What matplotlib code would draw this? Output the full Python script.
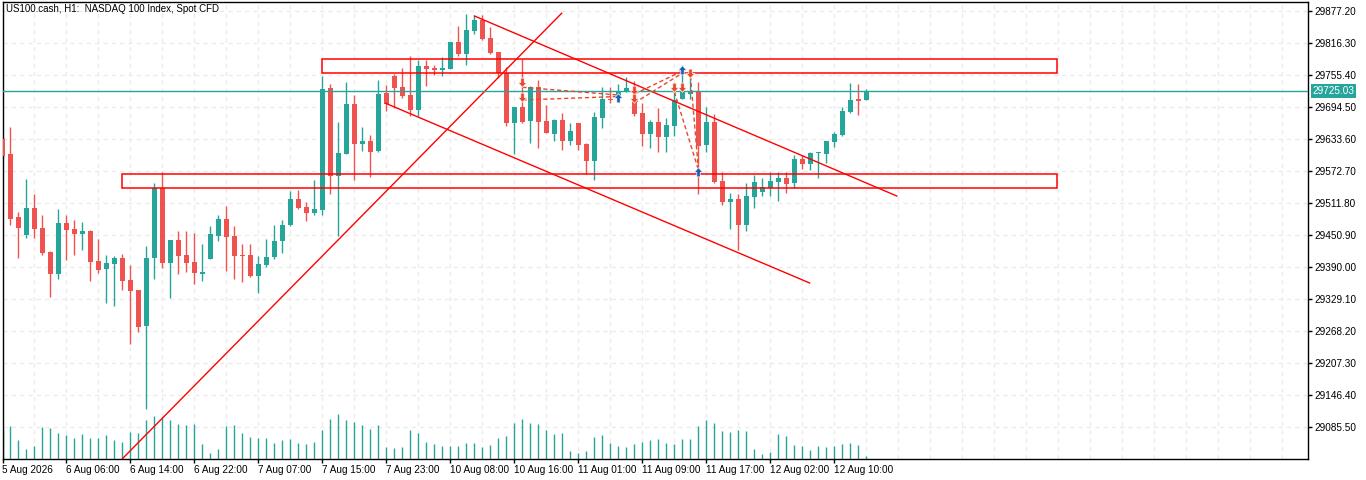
import numpy as np
import matplotlib.pyplot as plt
from matplotlib.path import Path
from matplotlib.patches import Rectangle
from matplotlib.transforms import blended_transform_factory

plt.rcParams['font.family'] = ['Liberation Sans', 'DejaVu Sans']

# DATA : US100.cash H1, one value per bar #

opens = [29634.0, 29605.5, 29485.5, 29451.8, 29502.7, 29464.6, 29418.9, 29377.6, 29474.1, 29462.7,
         29453.7, 29458.9, 29401.8, 29387.1, 29396.6, 29407.5, 29365.6, 29346.5, 29278.6, 29407.5,
         29540.2, 29398.5, 29441.7, 29413.2, 29399.9, 29377.6, 29406.1, 29449.9, 29481.7, 29449.9,
         29413.2, 29413.2, 29373.8, 29394.7, 29409.4, 29440.4, 29470.3, 29519.8, 29504.6, 29493.7,
         29498.9, 29730.6, 29564.2, 29605.5, 29700.7, 29625.1, 29630.2, 29611.2, 29721.6, 29754.0,
         29733.1, 29717.8, 29689.3, 29773.0, 29769.2, 29765.4, 29767.3, 29818.7, 29795.9, 29839.7,
         29860.6, 29826.3, 29799.7, 29759.7, 29664.5, 29695.0, 29668.3, 29733.1, 29668.3, 29643.6,
         29670.2, 29630.2, 29664.5, 29624.5, 29592.2, 29674.0, 29710.2, 29714.0, 29723.5, 29708.3,
         29684.1, 29644.1, 29667.0, 29638.4, 29659.4, 29709.6, 29719.7, 29724.1, 29622.6, 29667.0,
         29554.1, 29514.7, 29519.8, 29470.9, 29524.2, 29533.7, 29540.7, 29552.2, 29559.8, 29550.8,
         29595.4, 29587.0, 29606.8, 29606.1, 29628.3, 29641.7, 29685.5, 29710.2, 29707.7]
highs = [29637.9, 29657.5, 29495.1, 29557.9, 29529.3, 29489.3, 29420.8, 29500.8, 29489.3, 29479.8,
         29476.0, 29460.8, 29443.6, 29413.7, 29411.8, 29415.7, 29394.7, 29347.1, 29430.9, 29550.3,
         29571.2, 29441.7, 29458.9, 29458.9, 29455.1, 29434.7, 29468.4, 29489.3, 29506.5, 29468.4,
         29434.7, 29434.7, 29411.8, 29443.6, 29470.3, 29479.8, 29535.1, 29537.0, 29514.1, 29556.0,
         29754.0, 29738.8, 29666.4, 29742.6, 29717.8, 29656.3, 29641.7, 29746.4, 29736.9, 29757.8,
         29769.2, 29792.1, 29784.5, 29784.5, 29774.9, 29790.2, 29818.7, 29849.2, 29872.0, 29870.1,
         29870.1, 29847.3, 29799.7, 29771.1, 29695.0, 29786.4, 29735.0, 29746.4, 29698.8, 29672.1,
         29683.5, 29664.5, 29664.5, 29626.4, 29685.5, 29733.1, 29733.1, 29738.8, 29752.1, 29744.5,
         29702.0, 29670.8, 29693.6, 29673.5, 29733.6, 29775.5, 29752.1, 29742.0, 29695.5, 29681.6,
         29570.6, 29530.7, 29529.3, 29549.7, 29566.1, 29559.2, 29571.2, 29571.2, 29571.2, 29603.0,
         29603.0, 29609.3, 29609.9, 29629.7, 29647.9, 29694.4, 29740.1, 29738.2, 29728.7]
lows = [29599.8, 29470.3, 29408.0, 29446.1, 29446.1, 29413.7, 29333.8, 29368.1, 29404.2, 29413.7,
        29423.3, 29364.3, 29379.5, 29322.4, 29316.7, 29347.1, 29244.3, 29267.1, 29120.5, 29368.1,
        29389.0, 29331.9, 29377.6, 29381.4, 29358.5, 29364.3, 29406.1, 29440.4, 29383.3, 29368.1,
        29362.3, 29371.9, 29341.4, 29390.9, 29406.1, 29417.6, 29468.4, 29501.3, 29477.9, 29489.3,
        29489.3, 29529.3, 29449.9, 29605.5, 29556.0, 29611.2, 29562.3, 29609.3, 29687.4, 29693.6,
        29712.1, 29677.8, 29677.8, 29735.0, 29755.9, 29754.0, 29767.3, 29792.1, 29774.9, 29834.0,
        29822.5, 29795.9, 29750.2, 29658.8, 29605.5, 29664.5, 29626.4, 29616.9, 29645.5, 29630.2,
        29613.1, 29622.6, 29613.1, 29567.4, 29556.0, 29655.0, 29702.6, 29714.0, 29723.5, 29677.8,
        29621.3, 29617.5, 29608.7, 29609.3, 29640.3, 29709.6, 29710.2, 29528.8, 29609.9, 29549.7,
        29507.8, 29462.1, 29423.3, 29459.4, 29503.2, 29525.5, 29525.5, 29516.6, 29531.2, 29540.7,
        29576.9, 29575.0, 29560.4, 29587.8, 29619.4, 29639.8, 29683.0, 29679.7, 29707.7]
closes = [29602.2, 29482.3, 29465.2, 29502.7, 29463.3, 29416.4, 29377.6, 29474.1, 29461.4, 29453.7,
          29458.9, 29400.4, 29385.2, 29397.9, 29407.5, 29364.3, 29345.2, 29276.6, 29407.5, 29540.2,
          29398.5, 29441.7, 29411.8, 29398.5, 29379.5, 29380.8, 29453.2, 29481.7, 29448.0, 29411.8,
          29412.0, 29373.8, 29396.1, 29409.4, 29439.8, 29470.3, 29519.8, 29503.2, 29493.7, 29500.8,
          29729.2, 29564.2, 29607.4, 29700.7, 29625.1, 29630.2, 29609.3, 29719.7, 29701.3, 29731.7,
          29715.9, 29689.3, 29773.0, 29767.3, 29765.4, 29769.2, 29818.7, 29795.9, 29841.6, 29860.6,
          29824.4, 29797.8, 29759.7, 29664.5, 29695.0, 29666.4, 29733.1, 29666.4, 29645.5, 29670.2,
          29630.2, 29649.3, 29622.6, 29592.2, 29675.9, 29710.2, 29708.3, 29723.5, 29731.2, 29681.6,
          29644.1, 29667.0, 29638.4, 29660.1, 29707.7, 29726.0, 29724.1, 29621.3, 29667.0, 29552.2,
          29514.7, 29519.8, 29470.9, 29525.5, 29552.2, 29542.7, 29554.1, 29559.8, 29548.4, 29595.4,
          29586.4, 29606.8, 29609.9, 29629.7, 29643.6, 29686.8, 29707.7, 29706.9, 29725.03]
tick_volume = [90, 99, 57, 30, 39, 96, 93, 78, 72, 63, 75, 63, 63, 72, 57, 51, 81, 78, 117, 129,
               126, 117, 105, 102, 105, 45, 18, 30, 99, 102, 78, 66, 63, 63, 48, 57, 60, 48, 45, 51,
               87, 120, 135, 117, 111, 102, 90, 102, 36, 33, 36, 87, 78, 51, 45, 39, 39, 39, 48, 48,
               36, 43, 63, 69, 108, 120, 108, 105, 87, 75, 78, 24, 18, 24, 66, 72, 48, 39, 36, 45,
               51, 57, 60, 48, 45, 60, 60, 99, 117, 108, 84, 81, 87, 84, 30, 15, 21, 75, 69, 42,
               39, 27, 39, 36, 39, 45, 48, 42, 9]

time_labels = ['5 Aug 2026', '6 Aug 06:00', '6 Aug 14:00', '6 Aug 22:00', '7 Aug 07:00',
               '7 Aug 15:00', '7 Aug 23:00', '10 Aug 08:00', '10 Aug 16:00', '11 Aug 01:00',
               '11 Aug 09:00', '11 Aug 17:00', '12 Aug 02:00', '12 Aug 10:00']
price_levels = [29085.50, 29146.40, 29207.30, 29268.20, 29329.10, 29390.00, 29450.90,
                29511.80, 29572.70, 29633.60, 29694.50, 29755.40, 29816.30, 29877.20]

# objects drawn on the chart: (bar, price) pairs
zones = [((40, 29759.2), (131.8, 29785.8)), ((15, 29540.2), (131.8, 29567.4))]
trend_lines = [((14.9, 29024.0), (69.9, 29873.4)),
               ((59.0, 29868.2), (111.8, 29525.5)),
               ((47.9, 29702.0), (100.9, 29359.9))]
sell_bars = [65, 65, 79, 79, 84, 85, 86]
sell_prices = [29743.2, 29714.6, 29727.3, 29711.5, 29732.5, 29732.5, 29759.1]
buy_bars = [77, 85, 87]
buy_prices = [29711.5, 29765.4, 29570.6]
trade_paths = [((65, 29732.5), (77, 29717.8)), ((65, 29708.3), (77, 29715.0)),
               ((79, 29719.7), (85, 29763.5)), ((79, 29702.6), (85, 29759.7)),
               ((84, 29723.5), (87, 29575.0)), ((86, 29754.0), (87, 29575.0))]

BULL = '#26A69A'
BEAR = '#EF5350'
GRID = '#EBEBEB'

W, H = 1366, 480
fig = plt.figure(figsize=(W / 100, H / 100), dpi=100)
left_px, right_px, top_px, bot_px = 2.5, 1308, 2.3, 459
ax = fig.add_axes([left_px / W, 1 - bot_px / H, (right_px - left_px) / W, (bot_px - top_px) / H])

n = len(opens)
x = np.arange(n)
ax.set_xlim(0, 163.2)
ax.set_ylim(29024.8, 29894.3)

# grid
for g in np.arange(0, 164, 4):
    ax.axvline(g, color=GRID, lw=1, ls=(0, (3, 3)), zorder=0)
for p in price_levels:
    ax.axhline(p, color=GRID, lw=1, ls=(0, (3, 3)), zorder=0)

# volumes, drawn in the bottom of the price pane
vol_scale = 1370.0
ax.vlines(x, 0, np.array(tick_volume) / vol_scale, color=BULL, lw=1,
          transform=ax.get_xaxis_transform(), zorder=1)

# candles
for i in range(n):
    o, h, l, c = opens[i], highs[i], lows[i], closes[i]
    col = BULL if c >= o else BEAR
    ax.vlines(i, l, h, color=col, lw=1, zorder=2)
    body = max(abs(c - o), 1.6)
    ax.add_patch(Rectangle((i - 0.31, min(o, c)), 0.62, body, fc=col, ec='none', zorder=3))

# zones and trend lines
for (x0, p0), (x1, p1) in zones:
    ax.add_patch(Rectangle((x0, p0), x1 - x0, p1 - p0, fill=False, ec='#FF0000', lw=1.1, zorder=4))
for (x0, p0), (x1, p1) in trend_lines:
    ax.plot([x0, x1], [p0, p1], color='#FF0000', lw=1, zorder=4)

# current price
ax.axhline(closes[-1], color=BULL, lw=1, zorder=4)

# trade history
for (x0, p0), (x1, p1) in trade_paths:
    ax.plot([x0, x1], [p0, p1], color='#E8482A', lw=1, ls=(0, (3, 2)), zorder=5)
up = Path([(0, 1), (-0.9, 0), (-0.35, 0), (-0.35, -0.9), (0.35, -0.9), (0.35, 0), (0.9, 0), (0, 1)],
          [Path.MOVETO] + [Path.LINETO] * 6 + [Path.CLOSEPOLY])
down = Path(up.vertices * [1, -1], up.codes)
ax.plot(sell_bars, sell_prices, ls='none', marker=down, ms=7, mfc='#E8482A', mec='white', mew=0.5, zorder=6)
ax.plot(buy_bars, buy_prices, ls='none', marker=up, ms=7, mfc='#1560B8', mec='white', mew=0.5, zorder=6)

# axes
for s in ax.spines.values():
    s.set_color('black')
    s.set_linewidth(1)
ax.yaxis.tick_right()
ax.set_yticks(price_levels)
ax.set_yticklabels(['%.2f' % p for p in price_levels])
ax.set_xticks(np.arange(0, 8 * len(time_labels), 8))
ax.set_xticklabels(time_labels)
ax.tick_params(axis='both', length=3, width=1, color='black', labelsize=7.2, pad=1.5)
plt.setp(ax.get_xticklabels(), ha='left')

tr = blended_transform_factory(ax.transAxes, ax.transData)
ax.text(1.0035, closes[-1], '%.2f' % closes[-1], transform=tr, ha='left', va='center',
        fontsize=7.2, color='white', bbox=dict(fc=BULL, ec='none', pad=1.4), zorder=7)

fig.text(6 / W, 1 - 9.5 / H, 'US100.cash, H1:  NASDAQ 100 Index, Spot CFD', fontsize=7.0,
         ha='left', va='center', color='black')

fig.savefig('out.png', dpi=100)
